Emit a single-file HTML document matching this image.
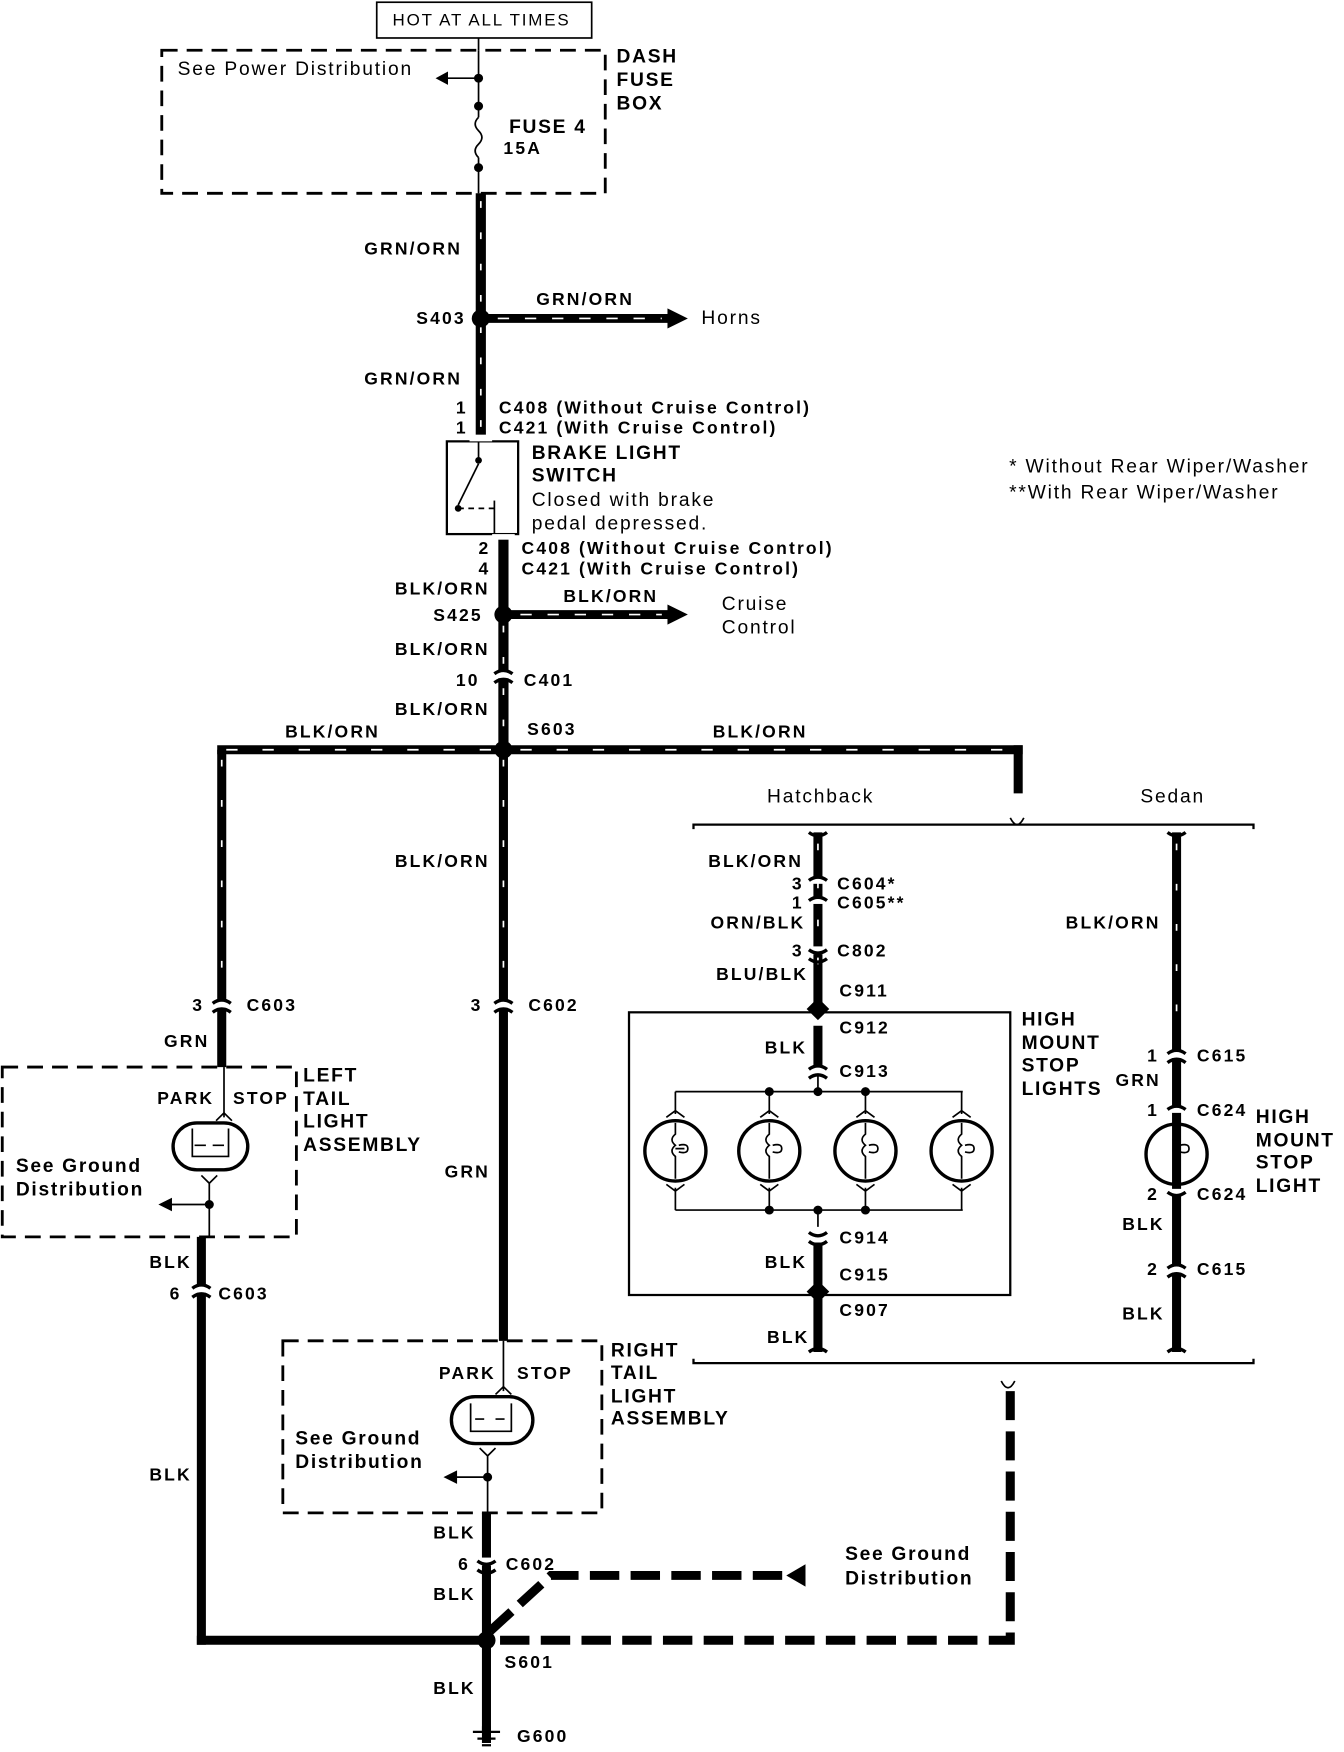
<!DOCTYPE html>
<html><head><meta charset="utf-8"><style>
html,body{margin:0;padding:0;background:#fff;}
svg{display:block;}
text{font-family:"Liberation Sans",sans-serif;fill:#000;}
.b{font-weight:bold;font-size:15.5px;letter-spacing:1.9px;}
.n{font-size:17px;letter-spacing:1.6px;}
.m{font-weight:bold;font-size:17px;letter-spacing:1.5px;}
</style></head><body>
<svg width="1344" height="1752" viewBox="0 0 1188 1568" preserveAspectRatio="none" xmlns="http://www.w3.org/2000/svg">
<g fill="none" stroke="#000">
<rect x="333" y="2" width="190" height="32" stroke-width="1.5"/>
<line x1="423" y1="34" x2="423" y2="45" stroke-width="1.5"/>
<rect x="143" y="45" width="392" height="128" stroke-width="2.5" stroke-dasharray="14,8"/>
<line x1="423" y1="45" x2="423" y2="105" stroke-width="1.5"/>
<path d="M423,105 q-6,6 0,12 q6,6 0,12 q-6,6 0,12" stroke-width="1.5"/>
<line x1="423" y1="141" x2="423" y2="173" stroke-width="1.5"/>
<line x1="423" y1="70" x2="395" y2="70" stroke-width="1.5"/>
<line x1="425" y1="173" x2="425" y2="392" stroke-width="9"/>
<line x1="425" y1="285" x2="592" y2="285" stroke-width="8"/>
<line x1="445" y1="480" x2="445" y2="671" stroke-width="9"/>
<line x1="445" y1="550" x2="592" y2="550" stroke-width="8"/>
<line x1="192" y1="671" x2="904" y2="671" stroke-width="8"/>
<line x1="900" y1="667" x2="900" y2="710" stroke-width="8"/>
<line x1="196" y1="671" x2="196" y2="955" stroke-width="8"/>
<line x1="445" y1="671" x2="445" y2="1200" stroke-width="8"/>
<rect x="395" y="395" width="63" height="83" stroke-width="2"/>
<line x1="423" y1="392" x2="423" y2="410" stroke-width="1.5"/>
<line x1="423" y1="415" x2="405" y2="452" stroke-width="1.5"/>
<line x1="405" y1="455" x2="437" y2="455" stroke-width="1.5" stroke-dasharray="5,4"/>
<line x1="437" y1="448" x2="437" y2="480" stroke-width="1.5"/>
<path d="M613,742 v-4 h495 v4" stroke-width="2"/>
<path d="M613,1216 v4 h495 v-4" stroke-width="2"/>
<path d="M893,732 q3,6 6,6 q3,0 6,-6" stroke-width="1.5"/>
<line x1="723" y1="745" x2="723" y2="900" stroke-width="8"/>
<line x1="1040" y1="745" x2="1040" y2="1210" stroke-width="8"/>
<rect x="556" y="906" width="337" height="253" stroke-width="2"/>
<line x1="723" y1="918" x2="723" y2="955" stroke-width="8"/>
<line x1="723" y1="960" x2="723" y2="977" stroke-width="1.5"/>
<line x1="597" y1="977" x2="851" y2="977" stroke-width="1.5"/>
<line x1="597" y1="1083" x2="851" y2="1083" stroke-width="1.5"/>
<line x1="723" y1="1083" x2="723" y2="1098" stroke-width="1.5"/>
<line x1="723" y1="1112" x2="723" y2="1150" stroke-width="8"/>
<line x1="723" y1="1162" x2="723" y2="1210" stroke-width="8"/>
<g stroke-width="3">
<circle cx="597" cy="1030" r="27"/><circle cx="680" cy="1030" r="27"/><circle cx="765" cy="1030" r="27"/><circle cx="850" cy="1030" r="27"/>
<circle cx="1040" cy="1033" r="27"/>
</g>
<g stroke-width="1.5">
<path d="M597,977v20 M589,1000l8,-6l8,6 M597,1083v-20 M589,1060l8,6l8,-6 M597,1005v10 q-6,5 0,10 q-6,5 0,10 v20 M597,1028h8 M600,1025 q8,-2 8,3 q0,5 -8,3"/>
<path d="M680,977v20 M672,1000l8,-6l8,6 M680,1083v-20 M672,1060l8,6l8,-6 M680,1005v10 q-6,5 0,10 q-6,5 0,10 v20 M683,1025 q8,-2 8,3 q0,5 -8,3"/>
<path d="M765,977v20 M757,1000l8,-6l8,6 M765,1083v-20 M757,1060l8,6l8,-6 M765,1005v10 q-6,5 0,10 q-6,5 0,10 v20 M768,1025 q8,-2 8,3 q0,5 -8,3"/>
<path d="M850,977v20 M842,1000l8,-6l8,6 M850,1083v-20 M842,1060l8,6l8,-6 M850,1005v10 q-6,5 0,10 q-6,5 0,10 v20 M853,1025 q8,-2 8,3 q0,5 -8,3"/>
<path d="M1040,1005v10 q-6,5 0,10 q-6,5 0,10 v25 M1043,1025 q8,-2 8,3 q0,5 -8,3"/>
</g>
<rect x="2" y="955" width="260" height="152" stroke-width="2.5" stroke-dasharray="14,8"/>
<line x1="198" y1="955" x2="198" y2="1000" stroke-width="1.5"/>
<path d="M191,1003 l7,-7 l7,7" stroke-width="1.5"/>
<rect x="153" y="1005" width="66" height="42" rx="21" stroke-width="3"/>
<path d="M170,1010v25h32v-25 M172,1025h10 M188,1025h10 M178,1052l7,7l7,-7 M185,1059v49 M185,1078h-35" stroke-width="1.5"/>
<line x1="178" y1="1107" x2="178" y2="1472" stroke-width="8"/>
<line x1="174" y1="1468" x2="430" y2="1468" stroke-width="8"/>
<rect x="250" y="1200" width="282" height="154" stroke-width="2.5" stroke-dasharray="14,8"/>
<line x1="445" y1="1200" x2="445" y2="1245" stroke-width="1.5"/>
<path d="M438,1248 l7,-7 l7,7" stroke-width="1.5"/>
<rect x="399" y="1250" width="72" height="42" rx="21" stroke-width="3"/>
<path d="M416,1256v25h36v-25 M420,1270h8 M438,1270h8 M424,1296l7,7l7,-7 M431,1303v51 M431,1322h-30" stroke-width="1.5"/>
<line x1="430" y1="1354" x2="430" y2="1560" stroke-width="8"/>
<path d="M893,1245 V1468 H440" stroke-width="8" stroke-dasharray="26,10"/>
<path d="M433,1460 L487,1410 H700" stroke-width="8" stroke-dasharray="26,10"/>
<path d="M885,1236 q3,6 6,6 q3,0 6,-6" stroke-width="1.5"/>
<path d="M418,1550h24 M422,1556h16 M426,1562h8" stroke-width="2"/>
</g>
<g stroke="#fff" stroke-width="1.5">
<line x1="425" y1="180" x2="425" y2="385" stroke-dasharray="6,22"/>
<line x1="445" y1="560" x2="445" y2="660" stroke-dasharray="6,22"/>
<line x1="445" y1="680" x2="445" y2="880" stroke-dasharray="6,30"/>
<line x1="196" y1="680" x2="196" y2="880" stroke-dasharray="6,30"/>
<line x1="1040" y1="755" x2="1040" y2="930" stroke-dasharray="6,30"/>
<line x1="723" y1="755" x2="723" y2="890" stroke-dasharray="6,28"/>
<line x1="440" y1="285" x2="585" y2="285" stroke-dasharray="10,14"/>
<line x1="460" y1="550" x2="585" y2="550" stroke-dasharray="10,14"/>
<line x1="200" y1="671" x2="435" y2="671" stroke-dasharray="10,22"/>
<line x1="460" y1="671" x2="890" y2="671" stroke-dasharray="10,22"/>
</g>
<g fill="#000">
<path d="M590,276 L608,285 L590,294 z"/>
<path d="M590,541 L608,550 L590,559 z"/>
<path d="M385,70 L396,64 L396,76 z"/>
<path d="M140,1078 L152,1072 L152,1084 z"/>
<path d="M392,1322 L404,1316 L404,1328 z"/>
<path d="M695,1410 L712,1400 L712,1420 z"/>
<circle cx="423" cy="70" r="4"/><circle cx="423" cy="95" r="4"/><circle cx="423" cy="150" r="4"/>
<circle cx="425" cy="285" r="8"/><circle cx="445" cy="550" r="8"/><circle cx="445" cy="671" r="8"/>
<circle cx="430" cy="1468" r="8"/>
<circle cx="185" cy="1078" r="4"/><circle cx="431" cy="1322" r="4"/>
<circle cx="680" cy="977" r="4"/><circle cx="723" cy="977" r="4"/><circle cx="765" cy="977" r="4"/>
<circle cx="680" cy="1083" r="4"/><circle cx="723" cy="1083" r="4"/><circle cx="765" cy="1083" r="4"/>
<circle cx="423" cy="412" r="3"/><circle cx="405" cy="455" r="3"/>
<path d="M723,893 l10,10 l-10,10 l-10,-10 z"/>
<path d="M723,1146 l10,10 l-10,10 l-10,-10 z"/>
<rect x="426" y="1545" width="8" height="6"/>
</g>
<g>
<g fill="#fff"><rect x="415" y="389" width="20" height="6"/><rect x="435" y="478" width="20" height="5"/>
<rect x="435" y="600" width="20" height="7"/><rect x="186" y="895" width="20" height="7"/><rect x="435" y="895" width="20" height="7"/>
<rect x="168" y="1150" width="20" height="7"/><rect x="420" y="1394" width="20" height="7"/>
<rect x="713" y="785" width="20" height="6"/><rect x="713" y="803" width="20" height="6"/><rect x="713" y="847" width="20" height="7"/>
<rect x="1030" y="940" width="20" height="7"/><rect x="1030" y="990" width="20" height="6"/><rect x="1030" y="1064" width="20" height="6"/><rect x="1030" y="1132" width="20" height="7"/>
<rect x="713" y="954" width="20" height="7"/><rect x="713" y="1100" width="20" height="8"/></g>
<g fill="none" stroke="#000" stroke-width="3">
<path d="M437,603 q8,-6 16,0 M437,611 q8,-6 16,0"/>
<path d="M188,898 q8,-6 16,0 M188,906 q8,-6 16,0"/>
<path d="M437,898 q8,-6 16,0 M437,906 q8,-6 16,0"/>
<path d="M170,1153 q8,-6 16,0 M170,1161 q8,-6 16,0"/>
<path d="M422,1397 q8,6 16,0 M422,1405 q8,6 16,0"/>
<path d="M715,788 q8,-6 16,0 M715,806 q8,-6 16,0 M715,850 q8,6 16,0 M715,858 q8,6 16,0"/>
<path d="M715,957 q8,-6 16,0 M715,965 q8,-6 16,0 M715,1103 q8,6 16,0 M715,1111 q8,6 16,0"/>
<path d="M1032,943 q8,-6 16,0 M1032,951 q8,-6 16,0 M1032,993 q8,-6 16,0 M1032,1067 q8,6 16,0 M1032,1135 q8,-6 16,0 M1032,1143 q8,-6 16,0"/>
<path d="M715,745 q8,6 16,0 M1032,745 q8,6 16,0 M715,1210 q8,-6 16,0 M1032,1210 q8,-6 16,0"/>
</g>
</g>
<text x="347" y="23" class="n" style="font-size:15px">HOT AT ALL TIMES</text>
<text x="157" y="67" class="n">See Power Distribution</text>
<text x="545" y="56" class="m">DASH</text><text x="545" y="77" class="m">FUSE</text><text x="545" y="98" class="m">BOX</text>
<text x="450" y="119" class="m">FUSE 4</text><text x="445" y="138" class="b">15A</text>
<text x="322" y="228" class="b">GRN/ORN</text>
<text x="474" y="273" class="b">GRN/ORN</text>
<text x="368" y="290" class="b">S403</text>
<text x="620" y="290" class="n">Horns</text>
<text x="322" y="344" class="b">GRN/ORN</text>
<text x="403" y="370" class="b">1</text><text x="441" y="370" class="b">C408  (Without Cruise Control)</text>
<text x="403" y="388" class="b">1</text><text x="441" y="388" class="b">C421 (With Cruise Control)</text>
<text x="470" y="411" class="m">BRAKE LIGHT</text><text x="470" y="431" class="m">SWITCH</text>
<text x="470" y="453" class="n">Closed with brake</text><text x="470" y="474" class="n">pedal depressed.</text>
<text x="892" y="423" class="n">* Without Rear Wiper/Washer</text>
<text x="892" y="446" class="n">**With Rear Wiper/Washer</text>
<text x="423" y="496" class="b">2</text><text x="461" y="496" class="b">C408  (Without Cruise Control)</text>
<text x="423" y="514" class="b">4</text><text x="461" y="514" class="b">C421 (With Cruise Control)</text>
<text x="349" y="532" class="b">BLK/ORN</text>
<text x="498" y="539" class="b">BLK/ORN</text>
<text x="383" y="556" class="b">S425</text>
<text x="638" y="546" class="n">Cruise</text><text x="638" y="567" class="n">Control</text>
<text x="349" y="586" class="b">BLK/ORN</text>
<text x="403" y="614" class="b">10</text><text x="463" y="614" class="b">C401</text>
<text x="349" y="640" class="b">BLK/ORN</text>
<text x="252" y="660" class="b">BLK/ORN</text>
<text x="466" y="658" class="b">S603</text>
<text x="630" y="660" class="b">BLK/ORN</text>
<text x="678" y="718" class="n">Hatchback</text>
<text x="1008" y="718" class="n">Sedan</text>
<text x="349" y="776" class="b">BLK/ORN</text>
<text x="626" y="776" class="b">BLK/ORN</text>
<text x="700" y="796" class="b">3</text><text x="740" y="796" class="b">C604*</text>
<text x="700" y="813" class="b">1</text><text x="740" y="813" class="b">C605**</text>
<text x="628" y="831" class="b">ORN/BLK</text>
<text x="700" y="856" class="b">3</text><text x="740" y="856" class="b">C802</text>
<text x="633" y="877" class="b">BLU/BLK</text>
<text x="742" y="892" class="b">C911</text>
<text x="942" y="831" class="b">BLK/ORN</text>
<text x="170" y="905" class="b">3</text><text x="218" y="905" class="b">C603</text>
<text x="416" y="905" class="b">3</text><text x="467" y="905" class="b">C602</text>
<text x="742" y="925" class="b">C912</text>
<text x="676" y="943" class="b">BLK</text>
<text x="742" y="964" class="b">C913</text>
<text x="903" y="918" class="m">HIGH</text><text x="903" y="939" class="m">MOUNT</text><text x="903" y="959" class="m">STOP</text><text x="903" y="980" class="m">LIGHTS</text>
<text x="145" y="937" class="b">GRN</text>
<text x="1014" y="950" class="b">1</text><text x="1058" y="950" class="b">C615</text>
<text x="986" y="972" class="b">GRN</text>
<text x="1014" y="999" class="b">1</text><text x="1058" y="999" class="b">C624</text>
<text x="1110" y="1005" class="m">HIGH</text><text x="1110" y="1026" class="m">MOUNT</text><text x="1110" y="1046" class="m">STOP</text><text x="1110" y="1067" class="m">LIGHT</text>
<text x="139" y="988" class="b">PARK</text><text x="206" y="988" class="b">STOP</text>
<text x="268" y="968" class="m">LEFT</text><text x="268" y="989" class="m">TAIL</text><text x="268" y="1009" class="m">LIGHT</text><text x="268" y="1030" class="m">ASSEMBLY</text>
<text x="14" y="1049" class="m">See Ground</text><text x="14" y="1070" class="m">Distribution</text>
<text x="393" y="1054" class="b">GRN</text>
<text x="1014" y="1074" class="b">2</text><text x="1058" y="1074" class="b">C624</text>
<text x="992" y="1101" class="b">BLK</text>
<text x="742" y="1113" class="b">C914</text>
<text x="676" y="1135" class="b">BLK</text>
<text x="742" y="1146" class="b">C915</text>
<text x="1014" y="1141" class="b">2</text><text x="1058" y="1141" class="b">C615</text>
<text x="132" y="1135" class="b">BLK</text>
<text x="150" y="1163" class="b">6</text><text x="193" y="1163" class="b">C603</text>
<text x="742" y="1178" class="b">C907</text>
<text x="992" y="1181" class="b">BLK</text>
<text x="678" y="1202" class="b">BLK</text>
<text x="388" y="1234" class="b">PARK</text><text x="457" y="1234" class="b">STOP</text>
<text x="540" y="1214" class="m">RIGHT</text><text x="540" y="1234" class="m">TAIL</text><text x="540" y="1255" class="m">LIGHT</text><text x="540" y="1275" class="m">ASSEMBLY</text>
<text x="261" y="1293" class="m">See Ground</text><text x="261" y="1314" class="m">Distribution</text>
<text x="132" y="1325" class="b">BLK</text>
<text x="383" y="1377" class="b">BLK</text>
<text x="405" y="1405" class="b">6</text><text x="447" y="1405" class="b">C602</text>
<text x="383" y="1432" class="b">BLK</text>
<text x="747" y="1396" class="m">See Ground</text><text x="747" y="1418" class="m">Distribution</text>
<text x="446" y="1493" class="b">S601</text>
<text x="383" y="1516" class="b">BLK</text>
<text x="457" y="1559" class="b">G600</text>
</svg>
</body></html>
